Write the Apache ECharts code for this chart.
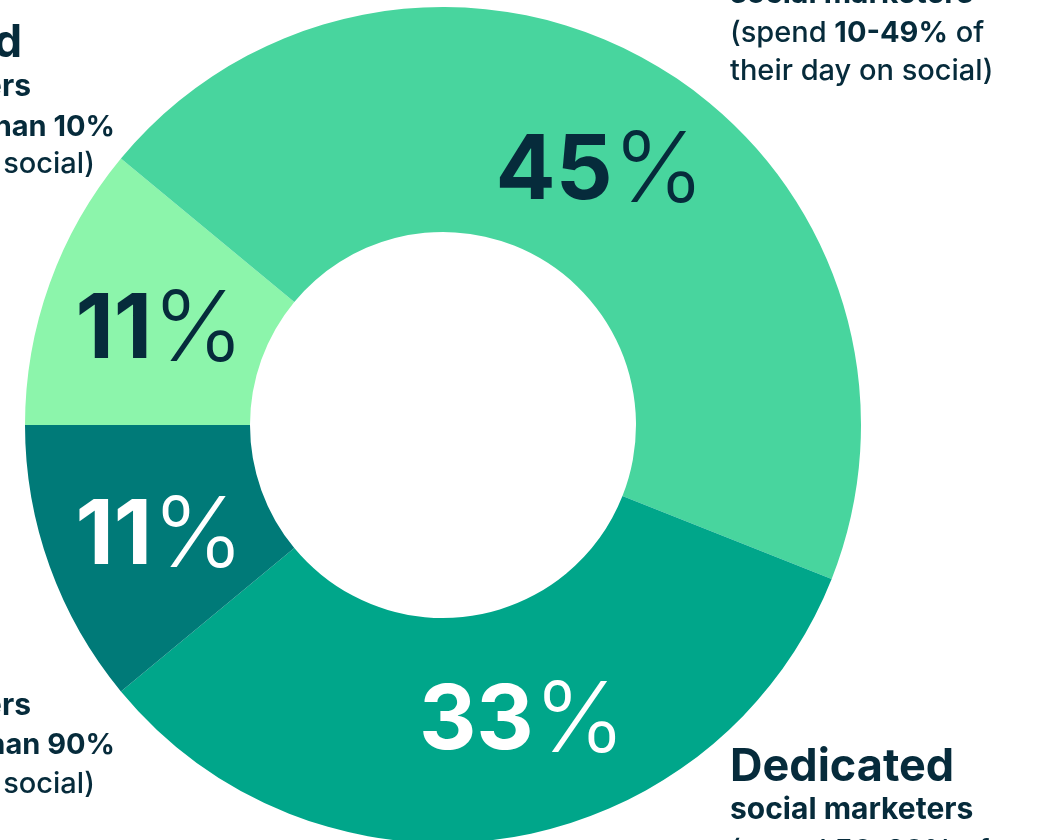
<!DOCTYPE html>
<html>
<head>
<meta charset="utf-8">
<script src="https://cdn.jsdelivr.net/npm/echarts@6/dist/echarts.min.js"></script>
<style>
  html, body { margin: 0; padding: 0; background: #ffffff; }
  #chart { width: 1047px; height: 840px; }
</style>
</head>
<body>
<div id="chart"></div>
<script>
// Share of marketers by time spent on social (percent), clockwise from 9 o'clock
var categories = ['Limited', 'Hybrid', 'Dedicated', 'Full-time'];
var shares = [11, 45, 33, 11];
var sliceColors = ['#8cf5ab', '#48d59e', '#00a68a', '#007a78'];
var labelColors = ['#062b3b', '#062b3b', '#ffffff', '#ffffff'];

// Segment descriptions (headline, subhead, detail lines)
var descHead = ['Limited', 'Hybrid', 'Dedicated', 'Full-time'];
var descSub = 'social marketers';
var descSpend = ['less than 10%', '10-49%', '50-89%', 'more than 90%'];

var INK = '#062b3b';
var FONT = 'Inter, "Noto Sans", sans-serif';

// per-slice nudge of the value label inside its ring segment [top, right, bottom, left]
var labelPads = [
  [22, 0, 0, 14],
  [26, 0, 0, 0],
  [0, 0, 14, 62],
  [16, 0, 0, 14]
];

var chart = echarts.init(document.getElementById('chart'), null, { renderer: 'canvas' });

var data = categories.map(function (name, i) {
  return {
    name: name,
    value: shares[i],
    itemStyle: { color: sliceColors[i] },
    label: {
      formatter: '{n|' + shares[i] + '}{p|%}',
      padding: labelPads[i],
      rich: {
        n: { fontFamily: FONT, fontSize: 89, fontWeight: 'bold', color: labelColors[i] },
        p: { fontFamily: FONT, fontSize: 98, fontWeight: 300, color: labelColors[i] }
      }
    }
  };
});

var richText = {
  r: { fontFamily: FONT, fontSize: 29, fontWeight: 500, fill: INK },
  b: { fontFamily: FONT, fontSize: 29, fontWeight: 'bold', fill: INK }
};

function txt(x, y, text, align, size, weight, rich) {
  return {
    type: 'text', x: x, y: y, silent: true,
    style: {
      text: text, align: align, verticalAlign: 'middle',
      fontFamily: FONT, fontSize: size, fontWeight: weight, fill: INK,
      rich: rich || undefined
    }
  };
}

var graphics = [
  // upper left: under 10%
  txt(22, 43, descHead[0], 'right', 45, 'bold'),
  txt(31, 87, descSub, 'right', 30, 'bold'),
  txt(115, 127, '{r|(spend }{b|' + descSpend[0] + '}', 'right', 29, 'bold', richText),
  txt(95, 164, '{r|of their day on social)}', 'right', 29, 500, richText),
  // upper right: 10-49%
  txt(730, -48, descHead[1], 'left', 45, 'bold'),
  txt(730, -6, descSub, 'left', 30, 'bold'),
  txt(730, 33, '{r|(spend }{b|' + descSpend[1] + '}{r| of}', 'left', 29, 500, richText),
  txt(730, 71, '{r|their day on social)}', 'left', 29, 500, richText),
  // lower right: 50-89%
  txt(730, 767, descHead[2], 'left', 45, 'bold'),
  txt(730, 810, descSub, 'left', 30, 'bold'),
  txt(730, 851, '{r|(spend }{b|' + descSpend[2] + '}{r| of}', 'left', 29, 500, richText),
  // lower left: over 90%
  txt(-8, 664, descHead[3], 'right', 45, 'bold'),
  txt(31, 706, descSub, 'right', 30, 'bold'),
  txt(115, 745, '{r|(spend }{b|' + descSpend[3] + '}', 'right', 29, 'bold', richText),
  txt(95, 784, '{r|of their day on social)}', 'right', 29, 500, richText)
];

chart.setOption({
  animation: false,
  backgroundColor: '#ffffff',
  graphic: graphics,
  series: [{
    type: 'pie',
    center: [443, 425],
    radius: [193, 418],
    startAngle: 180,
    clockwise: true,
    silent: true,
    avoidLabelOverlap: false,
    label: { show: true, position: 'inside' },
    labelLine: { show: false },
    itemStyle: { borderWidth: 0 },
    emphasis: { disabled: true },
    data: data
  }]
});
</script>
</body>
</html>
